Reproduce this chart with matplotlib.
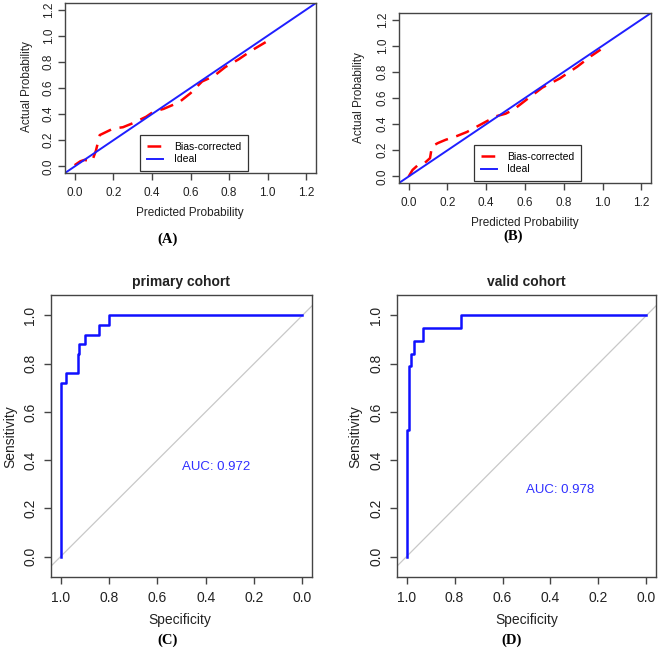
import matplotlib
matplotlib.use("Agg")
import matplotlib.pyplot as plt
import numpy as np

# calibration curves (bias-corrected)
cal_a_pred = [0.0, 0.03, 0.05, 0.09, 0.11, 0.13, 0.20, 0.25, 0.30, 0.37, 0.41, 0.46,
              0.54, 0.60, 0.66, 0.72, 0.78, 0.85, 0.92, 1.00]
cal_a_act = [0.01, 0.04, 0.05, 0.04, 0.12, 0.24, 0.29, 0.30, 0.33, 0.38, 0.42, 0.44,
             0.49, 0.56, 0.65, 0.69, 0.76, 0.82, 0.89, 0.96]
cal_b_pred = [0.0, 0.02, 0.05, 0.08, 0.11, 0.12, 0.15, 0.19, 0.25, 0.30, 0.35, 0.40,
              0.45, 0.50, 0.54, 0.61, 0.69, 0.78, 0.87, 0.94, 0.99]
cal_b_act = [0.0, 0.05, 0.09, 0.10, 0.14, 0.23, 0.255, 0.28, 0.31, 0.34, 0.38, 0.42,
             0.46, 0.48, 0.51, 0.59, 0.68, 0.75, 0.84, 0.92, 0.97]

# ROC curves (steps)
roc_c_spec = [1.0, 1.0, 0.98, 0.93, 0.925, 0.90, 0.84, 0.80, 0.0]
roc_c_sens = [0.0, 0.72, 0.76, 0.84, 0.88, 0.92, 0.96, 1.0, 1.0]
roc_d_spec = [1.0, 1.0, 0.99, 0.98, 0.97, 0.93, 0.775, 0.0]
roc_d_sens = [0.0, 0.526, 0.789, 0.842, 0.895, 0.947, 1.0, 1.0]
auc_c = 0.972
auc_d = 0.978

cal_ticks = [0.0, 0.2, 0.4, 0.6, 0.8, 1.0, 1.2]
roc_ticks = [0.0, 0.2, 0.4, 0.6, 0.8, 1.0]

plt.rcParams['font.family'] = ['Liberation Sans', 'DejaVu Sans']

W, H = 660, 650
fig = plt.figure(figsize=(W / 100, H / 100), dpi=100)


def box(l, t, r, b):
    """Axes rect from pixel edges."""
    return [l / W, 1 - b / H, (r - l) / W, (b - t) / H]


def ftext(x, y, s, **kw):
    fig.text(x / W, 1 - y / H, s, ha='center', va='center', **kw)


def style_axes(ax, size, ypad):
    for sp in ax.spines.values():
        sp.set_color('#444444')
        sp.set_linewidth(1.0)
    ax.tick_params(colors='#444444', labelcolor='#222222', length=5, width=1,
                   labelsize=size, pad=5)
    ax.tick_params(axis='y', labelrotation=90, pad=ypad)
    for lab in ax.get_yticklabels():
        lab.set_va('center')


def calib_panel(rect, pred, act, leg_anchor):
    ax = fig.add_axes(rect)
    ax.plot(pred, act, color='red', lw=1.8, ls=(0, (5.5, 3.5)), label='Bias-corrected')
    ax.axline((0, 0), slope=1, color='#1f1fff', lw=1.4, label='Ideal')
    ax.set_xlim(-0.05, 1.25)
    ax.set_ylim(-0.05, 1.25)
    ax.set_xticks(cal_ticks)
    ax.set_yticks(cal_ticks)
    ax.set_xticklabels([f'{t:.1f}' for t in cal_ticks])
    ax.set_yticklabels([f'{t:.1f}' for t in cal_ticks])
    style_axes(ax, 8.5, 2.5)
    leg = ax.legend(loc='lower left', bbox_to_anchor=leg_anchor, fontsize=7.5,
                    frameon=True, fancybox=False, handlelength=1.55,
                    borderpad=0.65, handletextpad=1.0, labelspacing=0.2,
                    borderaxespad=0, framealpha=1)
    leg.get_frame().set_edgecolor('#333333')
    leg.get_frame().set_linewidth(0.9)
    return ax


def roc_panel(rect, spec, sens, auc, auc_y):
    ax = fig.add_axes(rect)
    ax.axline((1, 0), (0, 1), color='#c8c8c8', lw=0.9)
    ax.plot(spec, sens, color='#1010ff', lw=1.8, drawstyle='steps-post')
    ax.set_xlim(1.04, -0.04)
    ax.set_ylim(-0.085, 1.085)
    ax.set_xticks(roc_ticks)
    ax.set_yticks(roc_ticks)
    ax.set_xticklabels([f'{t:.1f}' for t in roc_ticks])
    ax.set_yticklabels([f'{t:.1f}' for t in roc_ticks])
    style_axes(ax, 10, 5)
    ax.text(0.5, auc_y, f'AUC: {auc:.3f}', color='#3030ff', fontsize=9.5,
            ha='left', va='center')
    return ax


calib_panel(box(65, 3, 316, 173), cal_a_pred, cal_a_act, (0.30, 0.012))
calib_panel(box(399, 13, 651, 183), cal_b_pred, cal_b_act, (0.298, 0.012))
roc_panel(box(51, 295, 312, 577), roc_c_spec, roc_c_sens, auc_c, 0.373)
roc_panel(box(397, 295, 656, 577), roc_d_spec, roc_d_sens, auc_d, 0.274)

# axis labels and panel tags
ftext(27, 87, 'Actual Probability', fontsize=8.5, rotation=90, color='#222222')
ftext(190, 213, 'Predicted Probability', fontsize=8.5, color='#222222')
ftext(359, 98, 'Actual Probability', fontsize=8.5, rotation=90, color='#222222')
ftext(525, 223, 'Predicted Probability', fontsize=8.5, color='#222222')

ftext(181, 282, 'primary cohort', fontsize=10, fontweight='bold', color='#222222')
ftext(526, 282, 'valid cohort', fontsize=10, fontweight='bold', color='#222222')
ftext(10, 437, 'Sensitivity', fontsize=10, rotation=90, color='#222222')
ftext(355, 437, 'Sensitivity', fontsize=10, rotation=90, color='#222222')
ftext(180, 620, 'Specificity', fontsize=10, color='#222222')
ftext(527, 620, 'Specificity', fontsize=10, color='#222222')

serif = dict(fontsize=10.5, fontweight='bold', family='Liberation Serif')
ftext(168, 239, '(A)', **serif)
ftext(513, 236, '(B)', **serif)
ftext(168, 640, '(C)', **serif)
ftext(512, 640, '(D)', **serif)

fig.savefig('out.png', dpi=100)
